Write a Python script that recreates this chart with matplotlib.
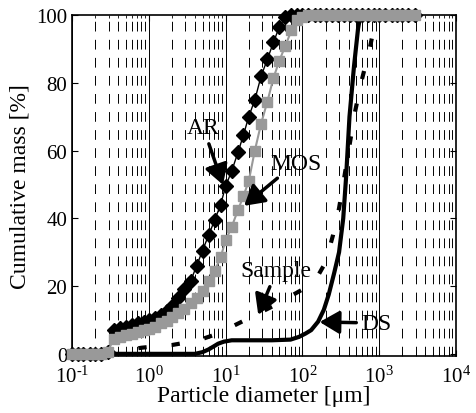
import numpy as np
import matplotlib
matplotlib.use("Agg")
import matplotlib.pyplot as plt
from matplotlib.ticker import LogLocator, NullFormatter, FuncFormatter

plt.rcParams['font.family'] = ['Liberation Serif', 'DejaVu Serif']
plt.rcParams['mathtext.fontset'] = 'custom'
plt.rcParams['mathtext.rm'] = 'Liberation Serif'
plt.rcParams['lines.scale_dashes'] = False

# bin diameters [um] shared by the two laser-diffraction curves
bins = [0.1, 0.12, 0.14, 0.17, 0.2, 0.24, 0.29, 0.35, 0.42, 0.5, 0.6, 0.72, 0.86,
        1.0, 1.2, 1.45, 1.7, 2.0, 2.4, 2.9, 3.5, 4.2, 5.0, 6.0, 7.2, 8.6,
        10, 12, 14.5, 17, 20, 24, 29, 35, 42, 50, 60, 72, 86,
        100, 120, 145, 170, 200, 240, 290, 350, 420, 500, 600, 720, 860,
        1000, 1200, 1450, 1700, 2000, 2400, 2900]

ar = [0, 0, 0, 0, 0, 0, 0.5, 7, 7.5, 8, 8.5, 9, 9.5,
      10, 10.7, 11.5, 12.5, 14, 16.5, 19, 21.5, 26, 30.5, 35, 39.5, 44,
      49.5, 54, 59.5, 64.5, 70, 75, 82, 87, 92, 96.5, 99.5, 100, 100,
      100, 100, 100, 100, 100, 100, 100, 100, 100, 100, 100, 100, 100,
      100, 100, 100, 100, 100, 100, 100]

mos = [0, 0, 0, 0, 0, 0, 0.5, 4.5, 5, 5.5, 6, 6.5, 7,
       7.4, 8, 9, 9.8, 10.8, 12, 13.3, 15, 16.5, 18.5, 21.5, 24.5, 28.5,
       33.5, 37.5, 42.5, 46.5, 51, 60, 68, 74.5, 81.5, 86.5, 91, 95.5, 98.5,
       99.5, 100, 100, 100, 100, 100, 100, 100, 100, 100, 100, 100, 100,
       100, 100, 100, 100, 100, 100, 100]

ds_x = [0.1, 0.5, 1, 2, 4, 5, 6, 7, 8, 9.5, 12, 20, 40, 70, 90, 110, 130, 160,
        190, 220, 260, 300, 340, 370, 410, 470, 530, 570]
ds_y = [0, 0, 0, 0, 0, 0.5, 1.3, 2.2, 3, 3.6, 4, 4, 4, 4.2, 5, 6, 7, 9.5,
        13, 17.5, 24, 30, 40, 52, 70, 85, 96, 100]

smp_x = [0.1, 0.3, 0.5, 0.8, 1.2, 2, 3, 5, 8, 12, 20, 30, 50, 70, 100, 150,
         200, 250, 300, 350, 400, 480, 580, 750, 850, 950]
smp_y = [0, 0.5, 1, 1.8, 2.2, 2.6, 3.3, 4.4, 6, 8, 10.5, 12.5, 15, 17, 19, 22,
         27, 35, 43, 52, 60, 71, 80, 90, 96, 100]

fig = plt.figure(figsize=(4.77, 4.14), dpi=100)
ax = fig.add_axes([0.151, 0.138, 0.805, 0.823])

ax.plot(ds_x, ds_y, color='k', lw=3, clip_on=False, zorder=3)
ax.plot(smp_x, smp_y, color='k', lw=3, dashes=(6, 18), clip_on=False, zorder=3)
ax.plot(bins, ar, color='k', lw=1, marker='D', ms=7, mfc='k', mec='k',
        clip_on=False, zorder=4)
ax.plot(bins, mos, color='0.6', lw=1.5, marker='s', ms=6.5, mfc='0.6', mec='0.6',
        clip_on=False, zorder=5)

ax.set_xscale('log')
ax.set_xlim(0.1, 1e4)
ax.set_ylim(-0.6, 100)
ax.set_yticks([0, 20, 40, 60, 80, 100])
ax.xaxis.set_major_locator(LogLocator(base=10, numticks=10))
ax.xaxis.set_minor_locator(LogLocator(base=10, subs=np.arange(2, 10), numticks=20))
ax.xaxis.set_minor_formatter(NullFormatter())
ax.xaxis.set_major_formatter(FuncFormatter(
    lambda v, p: r'$\mathregular{10^{\text{%d}}}$' % round(np.log10(v))))

ax.grid(which='major', axis='x', color='k', lw=0.7, ls='-')
ax.grid(which='minor', axis='x', color='k', lw=0.7, ls=(0, (7, 6)))
ax.grid(which='major', axis='y', color='k', lw=0.7, ls=(0, (7, 6)))
for gl in ax.yaxis.get_gridlines():
    y = gl.get_ydata()[0]
    if y <= 0 or y >= 100:
        gl.set_visible(False)

ax.tick_params(which='both', direction='in', top=True, right=True, labelsize=15)
ax.tick_params(which='major', length=4)
ax.tick_params(which='minor', length=2)
ax.tick_params(axis='x', which='major', pad=7)
for s in ax.spines.values():
    s.set_linewidth(1.2)

ax.set_xlabel('Particle diameter [\u03bcm]', fontsize=17, labelpad=-1)
ax.set_ylabel('Cumulative mass [%]', fontsize=17, labelpad=4)

arr = dict(arrowstyle='-|>,head_length=0.6,head_width=0.35', color='k', lw=2.5,
           mutation_scale=20, shrinkA=2, shrinkB=0)
ax.annotate('AR', xy=(9.25, 49.9), xytext=(5.13, 66.7), fontsize=17,
            ha='center', va='center', arrowprops=arr, zorder=6)
ax.annotate('MOS', xy=(17.4, 43.7), xytext=(81.3, 56.3), fontsize=17,
            ha='center', va='center', arrowprops=arr, zorder=6)
ax.annotate('Sample', xy=(26.6, 11.5), xytext=(45.8, 24.5), fontsize=17,
            ha='center', va='center', arrowprops=arr, zorder=6)
ax.annotate('DS', xy=(167.5, 9.4), xytext=(935, 9.1), fontsize=17,
            ha='center', va='center', arrowprops=arr, zorder=6)

fig.savefig('out.png', dpi=100)
